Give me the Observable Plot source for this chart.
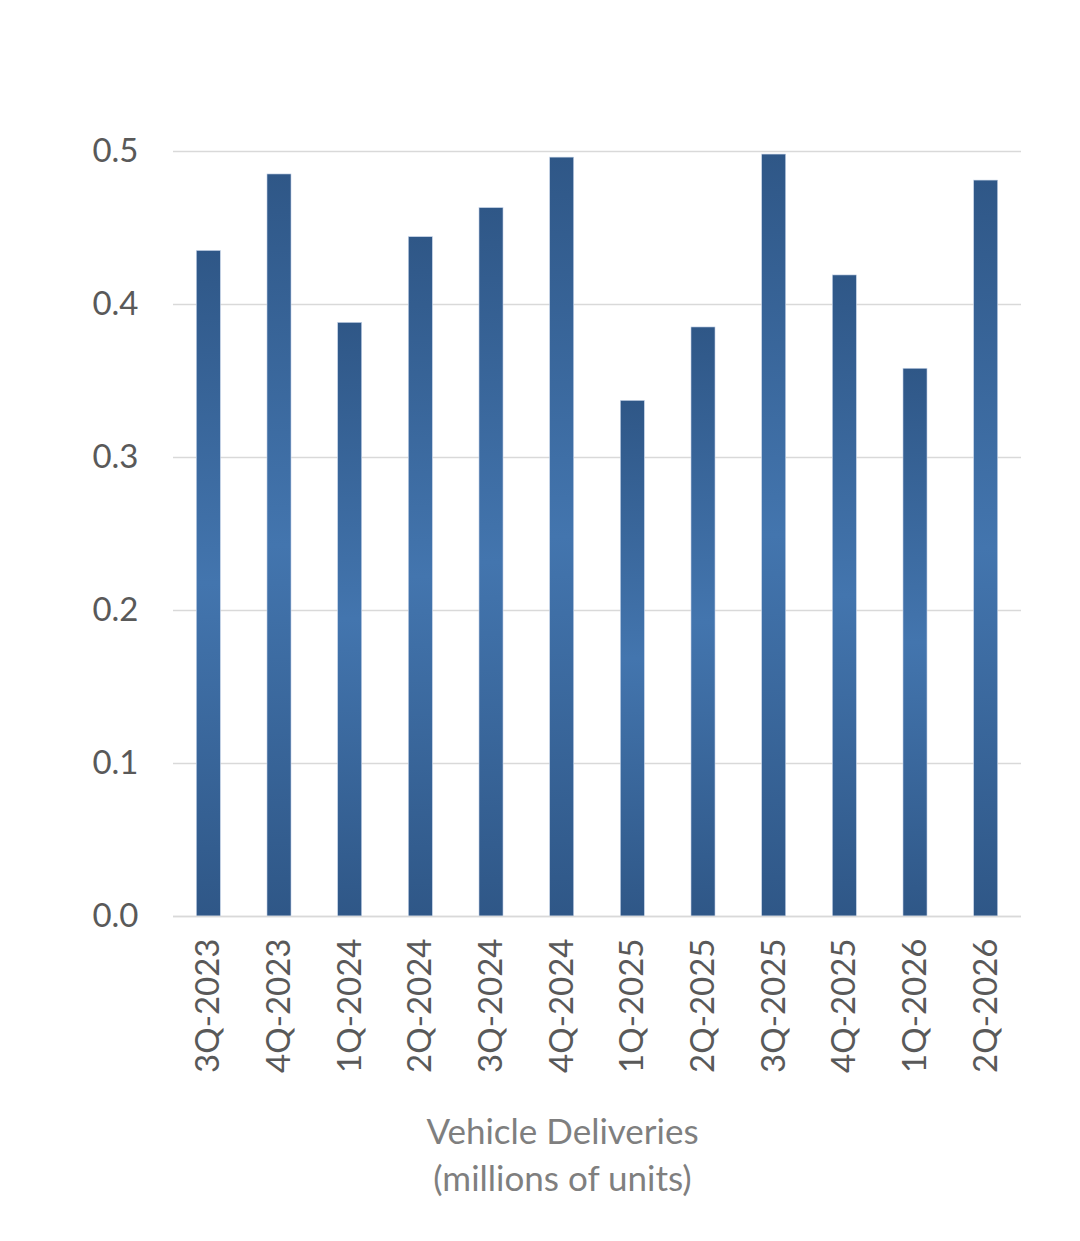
<!DOCTYPE html>
<html>
<head>
<meta charset="utf-8">
<script src="https://cdn.jsdelivr.net/npm/d3@7"></script>
<script src="https://cdn.jsdelivr.net/npm/@observablehq/plot@0.6"></script>
<style>
  html, body { margin: 0; padding: 0; background: #ffffff; }
  #chart { width: 1080px; height: 1241px; }
</style>
</head>
<body>
<div id="chart"></div>
<script>
const quarters = ["3Q-2023","4Q-2023","1Q-2024","2Q-2024","3Q-2024","4Q-2024","1Q-2025","2Q-2025","3Q-2025","4Q-2025","1Q-2026","2Q-2026"];
const deliveries = [0.435, 0.485, 0.388, 0.444, 0.463, 0.496, 0.337, 0.385, 0.498, 0.419, 0.358, 0.481];
const yTicks = [0, 0.1, 0.2, 0.3, 0.4, 0.5];
const axisTitle = "Vehicle Deliveries\n(millions of units)";

const data = quarters.map((q, i) => ({quarter: q, value: deliveries[i]}));
const font = "Lato, 'Open Sans', sans-serif";

const chart = Plot.plot({
  width: 1080,
  height: 1241,
  marginLeft: 173,
  marginRight: 59,
  marginTop: 151,
  marginBottom: 325,
  style: {fontFamily: font, fontSize: "33px", color: "#595959", background: "#ffffff"},
  x: {domain: quarters, paddingInner: 0.66, paddingOuter: 0.33, round: false, label: null, tickSize: 0, tickRotate: -90, tickPadding: 22},
  y: {domain: [0, 0.5], ticks: yTicks, tickFormat: d3.format(".1f"), label: null, tickSize: 0, tickPadding: 35},
  marks: [
    Plot.gridY(yTicks, {stroke: "#d9d9d9", strokeOpacity: 1, strokeWidth: 1.5}),
    Plot.barY(data, {x: "quarter", y: "value", fill: "url(#barGrad)", stroke: "#c9d6ea", strokeWidth: 0.6}),
    Plot.ruleY([0], {stroke: "#d9d9d9", strokeWidth: 1.5}),
    Plot.text([axisTitle], {
      frameAnchor: "bottom",
      lineAnchor: "top",
      dx: -35,
      dy: 194,
      lineHeight: 1.34,
      fill: "#7f7f7f",
      fontSize: 35
    })
  ]
});

const svgNS = "http://www.w3.org/2000/svg";
const defs = document.createElementNS(svgNS, "defs");
const grad = document.createElementNS(svgNS, "linearGradient");
grad.setAttribute("id", "barGrad");
grad.setAttribute("x1", "0"); grad.setAttribute("y1", "0");
grad.setAttribute("x2", "0"); grad.setAttribute("y2", "1");
[[0, "#2f5787"], [0.5, "#4375ae"], [1, "#2f5787"]].forEach(([o, c]) => {
  const s = document.createElementNS(svgNS, "stop");
  s.setAttribute("offset", o);
  s.setAttribute("stop-color", c);
  grad.appendChild(s);
});
defs.appendChild(grad);
chart.insertBefore(defs, chart.firstChild);

document.getElementById("chart").appendChild(chart);
</script>
</body>
</html>
